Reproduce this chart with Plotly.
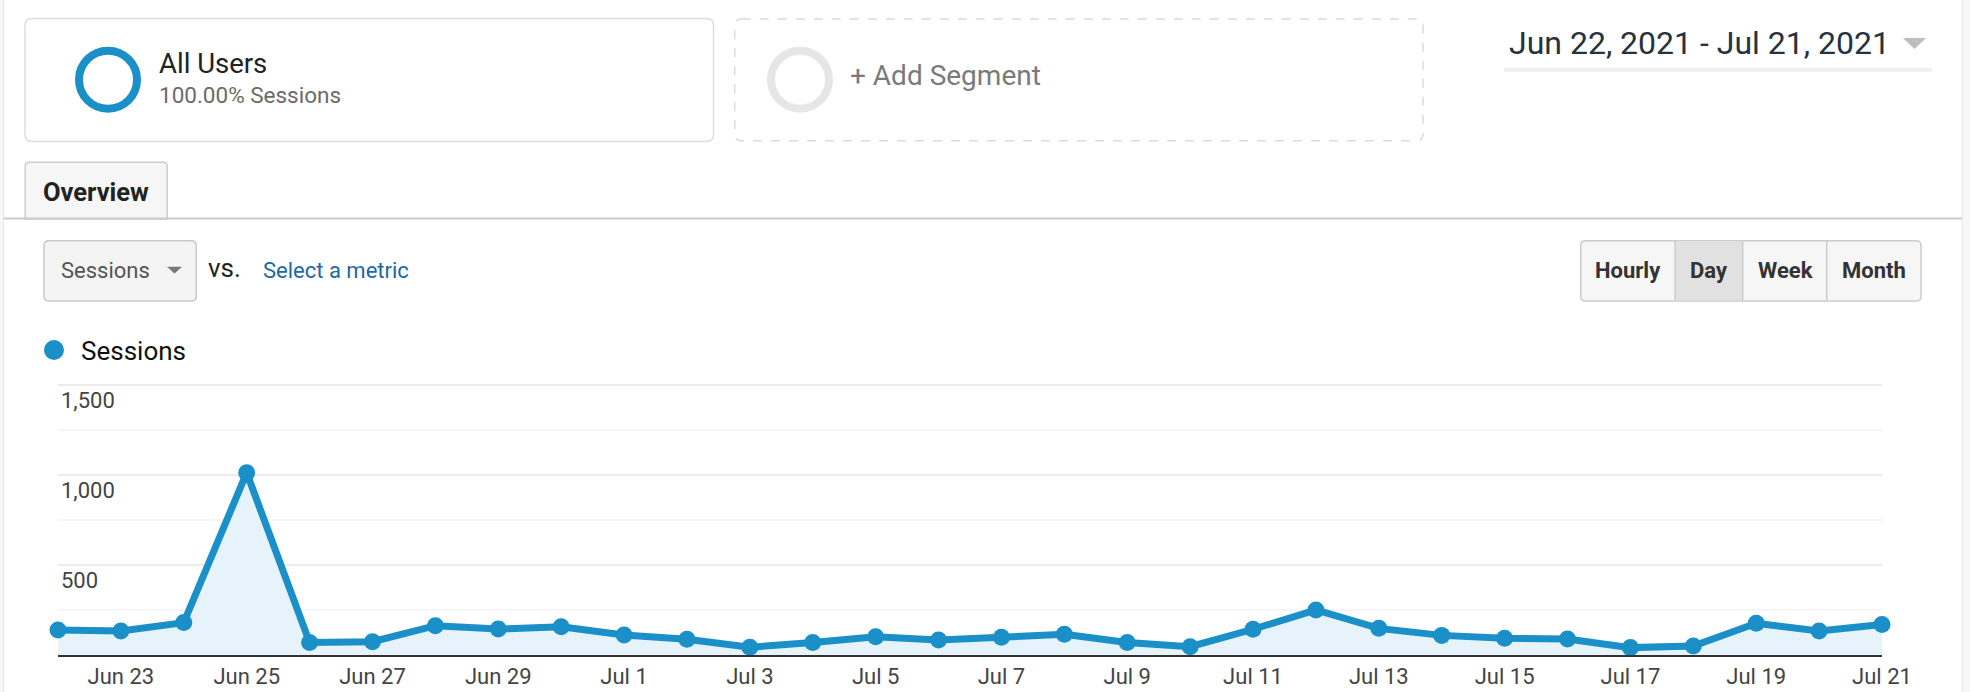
import plotly.graph_objects as go

# ---------------- data ----------------
dates = ["2021-06-22", "2021-06-23", "2021-06-24", "2021-06-25", "2021-06-26",
         "2021-06-27", "2021-06-28", "2021-06-29", "2021-06-30", "2021-07-01",
         "2021-07-02", "2021-07-03", "2021-07-04", "2021-07-05", "2021-07-06",
         "2021-07-07", "2021-07-08", "2021-07-09", "2021-07-10", "2021-07-11",
         "2021-07-12", "2021-07-13", "2021-07-14", "2021-07-15", "2021-07-16",
         "2021-07-17", "2021-07-18", "2021-07-19", "2021-07-20", "2021-07-21"]
sessions = [139, 133, 180, 1013, 69, 74, 163, 144, 157, 111,
            88, 43, 70, 102, 83, 98, 115, 70, 46, 143,
            250, 148, 109, 93, 89, 41, 50, 176, 133, 170]
x_tick_dates = ["2021-06-23", "2021-06-25", "2021-06-27", "2021-06-29", "2021-07-01",
                "2021-07-03", "2021-07-05", "2021-07-07", "2021-07-09", "2021-07-11",
                "2021-07-13", "2021-07-15", "2021-07-17", "2021-07-19", "2021-07-21"]
x_tick_labels = ["Jun 23", "Jun 25", "Jun 27", "Jun 29", "Jul 1", "Jul 3", "Jul 5",
                 "Jul 7", "Jul 9", "Jul 11", "Jul 13", "Jul 15", "Jul 17", "Jul 19", "Jul 21"]
y_tick_values = [500, 1000, 1500]
y_tick_labels = ["500", "1,000", "1,500"]
date_range_text = "Jun 22, 2021 - Jul 21, 2021"
buttons = ["Hourly", "Day", "Week", "Month"]

# ---------------- geometry helpers ----------------
W, H = 1970, 692
FONT = "Roboto, 'Open Sans', Arial, sans-serif"
BLUE = "#1a8fc8"
Y_TOP = 1530                      # axis top value (gridline 1500 sits just inside)
PX_PER_UNIT = 90 / 500            # 500 sessions = 90 px
PLOT_BOTTOM = 655
PLOT_TOP = PLOT_BOTTOM - Y_TOP * PX_PER_UNIT


def X(p):
    return p / W


def Y(p):
    return 1 - p / H


def rrect_path(x0, y0, x1, y1, r, top_only=False):
    rb = 0 if top_only else r
    pts = [
        ("M", x0 + r, y0), ("L", x1 - r, y0), ("Q", x1, y0, x1, y0 + r),
        ("L", x1, y1 - rb), ("Q", x1, y1, x1 - rb, y1),
        ("L", x0 + rb, y1), ("Q", x0, y1, x0, y1 - rb),
        ("L", x0, y0 + r), ("Q", x0, y0, x0 + r, y0),
    ]
    s = ""
    for p in pts:
        if p[0] == "Q":
            s += "Q%.6f,%.6f %.6f,%.6f " % (X(p[1]), Y(p[2]), X(p[3]), Y(p[4]))
        else:
            s += "%s%.6f,%.6f " % (p[0], X(p[1]), Y(p[2]))
    return s + "Z"


def poly_path(points):
    s = "M" + " L".join("%.6f,%.6f" % (X(a), Y(b)) for a, b in points)
    return s + " Z"


shapes = []
annotations = []


def add_text(text, x, y, size, color, anchor="left", bold=False):
    annotations.append(dict(
        text=("<b>%s</b>" % text) if bold else text, x=X(x), y=Y(y),
        xref="paper", yref="paper", xanchor=anchor, yanchor="middle",
        showarrow=False, font=dict(family=FONT, size=size, color=color)))


# page side borders
shapes.append(dict(type="rect", xref="paper", yref="paper", x0=X(0), x1=X(3.3),
                   y0=0, y1=1, fillcolor="#f5f7fa", line=dict(width=0), layer="below"))
shapes.append(dict(type="line", xref="paper", yref="paper", x0=X(3.5), x1=X(3.5),
                   y0=0, y1=1, line=dict(color="#e6e9ee", width=1.2)))
shapes.append(dict(type="rect", xref="paper", yref="paper", x0=X(1962), x1=X(1970),
                   y0=0, y1=1, fillcolor="#f5f7fa", line=dict(width=0), layer="below"))
shapes.append(dict(type="line", xref="paper", yref="paper", x0=X(1962), x1=X(1962),
                   y0=0, y1=1, line=dict(color="#e6e9ee", width=1.2)))

# segment boxes
shapes.append(dict(type="path", xref="paper", yref="paper",
                   path=rrect_path(25, 18.5, 713.5, 141.5, 7),
                   fillcolor="white", line=dict(color="#dedede", width=1.5)))
shapes.append(dict(type="circle", xref="paper", yref="paper",
                   x0=X(108 - 29), x1=X(108 + 29), y0=Y(79.7 + 29), y1=Y(79.7 - 29),
                   line=dict(color=BLUE, width=8)))
add_text("All Users", 156.5, 64, 27.5, "#222222")
add_text("100.00% Sessions", 156.5, 94.5, 22.5, "#6b6b6b")

shapes.append(dict(type="path", xref="paper", yref="paper",
                   path=rrect_path(734.7, 19, 1423, 140.7, 7),
                   line=dict(color="#dcdcdc", width=1.5, dash="dash")))
shapes.append(dict(type="circle", xref="paper", yref="paper",
                   x0=X(800 - 29), x1=X(800 + 29), y0=Y(79.7 + 29), y1=Y(79.7 - 29),
                   line=dict(color="#e6e6e6", width=8)))
add_text("+ Add Segment", 848, 75, 28, "#7a7a7a")

# date range selector
add_text(date_range_text, 1507, 43, 32, "#26323d")
shapes.append(dict(type="path", xref="paper", yref="paper",
                   path=poly_path([(1903, 38), (1926, 38), (1914.5, 49)]),
                   fillcolor="#bdbdbd", line=dict(width=0)))
shapes.append(dict(type="rect", xref="paper", yref="paper", x0=X(1504), x1=X(1931.5),
                   y0=Y(71.7), y1=Y(67.7), fillcolor="#efefef", line=dict(width=0)))

# tab strip
shapes.append(dict(type="path", xref="paper", yref="paper",
                   path=rrect_path(25.2, 162.3, 167.2, 219, 4, top_only=True),
                   fillcolor="#f6f6f6", line=dict(color="#cccccc", width=1.5)))
shapes.append(dict(type="line", xref="paper", yref="paper", x0=X(3.5), x1=X(1962),
                   y0=Y(218.5), y1=Y(218.5), line=dict(color="#cccccc", width=2)))
add_text("Overview", 96, 191.5, 25.5, "#222222", anchor="center", bold=True)

# metric selector
shapes.append(dict(type="path", xref="paper", yref="paper",
                   path=rrect_path(44, 240.7, 196.3, 301, 5),
                   fillcolor="#f4f4f4", line=dict(color="#c9c9c9", width=1.5)))
add_text("Sessions", 58.5, 270, 22, "#555555")
shapes.append(dict(type="path", xref="paper", yref="paper",
                   path=poly_path([(167, 266.7), (182, 266.7), (174.5, 273.5)]),
                   fillcolor="#777777", line=dict(width=0)))
add_text("vs.", 206, 268, 26, "#222222")
add_text("Select a metric", 261, 270.5, 22, "#1f67a5")

# granularity buttons
shapes.append(dict(type="path", xref="paper", yref="paper",
                   path=rrect_path(1580.7, 240.7, 1921, 301, 5),
                   fillcolor="#f6f6f6", line=dict(color="#cccccc", width=1.5)))
shapes.append(dict(type="rect", xref="paper", yref="paper", x0=X(1675), x1=X(1742.7),
                   y0=Y(300.2), y1=Y(241.5), fillcolor="#e1e1e1", line=dict(width=0)))
for xd in (1675, 1742.7, 1826.7):
    shapes.append(dict(type="line", xref="paper", yref="paper", x0=X(xd), x1=X(xd),
                       y0=Y(300.5), y1=Y(241.2), line=dict(color="#cccccc", width=1.5)))
for label, cx in zip(buttons, (1628, 1709, 1785, 1874)):
    add_text(label, cx, 270.5, 22, "#333333", anchor="center", bold=True)

# legend
shapes.append(dict(type="circle", xref="paper", yref="paper",
                   x0=X(44), x1=X(64), y0=Y(360), y1=Y(340),
                   fillcolor=BLUE, line=dict(width=0)))
add_text("Sessions", 79, 351, 26, "#111111")

# ---------------- chart ----------------
fig = go.Figure()
fig.add_trace(go.Scatter(
    x=dates, y=sessions, mode="lines+markers",
    line=dict(color=BLUE, width=7),
    marker=dict(color=BLUE, size=17),
    fill="tozeroy", fillcolor="#e6f3fa",
    cliponaxis=False, showlegend=False, name="Sessions"))

fig.update_layout(
    width=W, height=H, margin=dict(l=0, r=0, t=0, b=0, autoexpand=False),
    paper_bgcolor="white", plot_bgcolor="white",
    font=dict(family=FONT),
    shapes=shapes, annotations=annotations, showlegend=False,
    xaxis=dict(
        domain=[X(58), X(1882)], type="date", automargin=False,
        range=["2021-06-22", "2021-07-21"],
        tickmode="array", tickvals=x_tick_dates, ticktext=x_tick_labels,
        showgrid=False, zeroline=False,
        showline=True, linecolor="#333333", linewidth=2,
        ticks="", tickfont=dict(family=FONT, size=22, color="#444444"),
        ticklabelstandoff=1, fixedrange=True),
    yaxis=dict(
        domain=[Y(PLOT_BOTTOM), Y(PLOT_TOP)], range=[0, Y_TOP], automargin=False,
        tickmode="array", tickvals=y_tick_values, ticktext=y_tick_labels,
        showgrid=True, gridcolor="#ebebeb", gridwidth=1.5,
        minor=dict(tickmode="linear", tick0=0, dtick=250, showgrid=True,
                   gridcolor="#f5f5f5", gridwidth=1.5),
        zeroline=False, showline=False, ticks="",
        ticklabelposition="inside bottom",
        tickfont=dict(family=FONT, size=22, color="#444444"),
        fixedrange=True),
)

fig.write_html(
    "out.html",
    config={"displayModeBar": False},
    post_script="document.body.style.margin='0px';document.body.style.overflow='hidden';")
